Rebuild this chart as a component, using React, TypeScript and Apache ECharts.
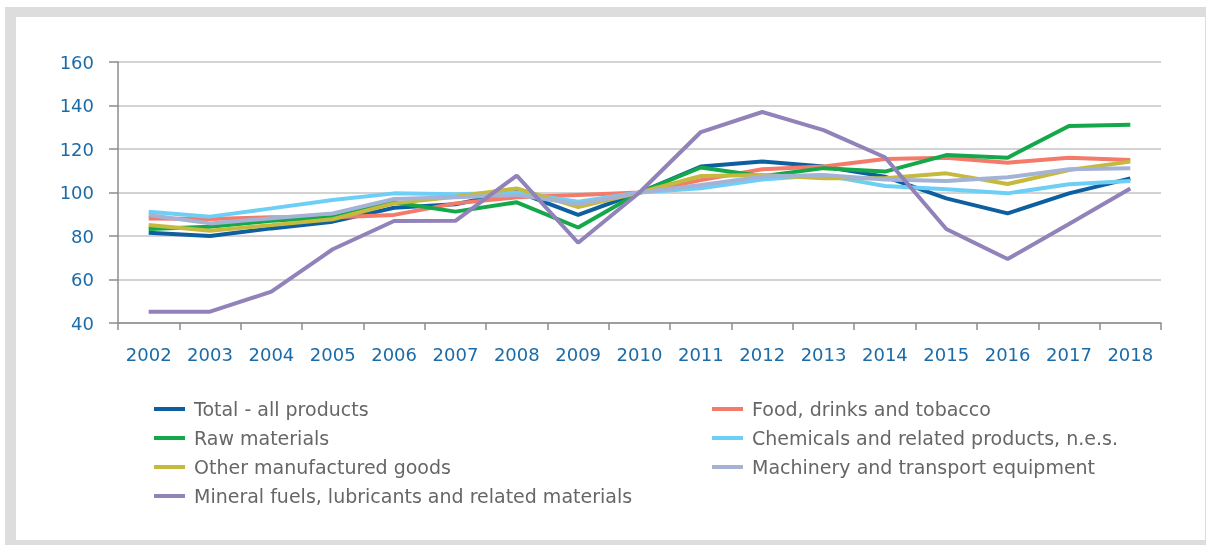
import React, { useEffect, useRef } from "react";
import * as echarts from "echarts";

const years = ["2002","2003","2004","2005","2006","2007","2008","2009","2010","2011","2012","2013","2014","2015","2016","2017","2018"];

const totalAll = [81.5, 80, 83.5, 86.6, 93, 94.6, 100.4, 89.7, 100, 111.9, 114.2, 111.9, 107.3, 97.3, 90.4, 99.6, 106.5];
const foodDrinks = [88.1, 87.8, 88.6, 88.6, 89.7, 95, 97.8, 98.9, 100, 105.7, 110.7, 112, 115.4, 116, 113.7, 116, 114.9];
const rawMaterials = [83.2, 84.3, 87, 88.6, 95.5, 91.2, 95.5, 83.9, 100, 111.5, 107.5, 111.2, 109.6, 117.2, 116, 130.6, 131.2];
const chemicals = [91.2, 88.9, 92.7, 96.6, 99.6, 99.2, 100, 95.8, 100, 101.9, 106, 108, 103, 101.5, 99.6, 103.8, 105.3];
const otherManuf = [85.1, 82.4, 85, 87.7, 95, 98, 101.9, 93.3, 100, 107.6, 108, 106.6, 106.5, 108.8, 103.9, 110.3, 114.2];
const machinery = [89.7, 85.8, 88.2, 90.4, 97, 97.8, 98.9, 94.7, 100, 103.4, 107.3, 108, 106, 105.3, 107, 110.7, 111.1];
const mineralFuels = [45.2, 45.2, 54.4, 73.9, 86.9, 87, 107.8, 76.9, 100, 127.8, 137, 128.7, 116.2, 83.2, 69.4, 85.5, 101.8];

const yTicks = { min: 40, max: 160, interval: 20 };

const seriesDefs = [
  { name: "Total - all products", data: totalAll, color: "#0E5FA0" },
  { name: "Food, drinks and tobacco", data: foodDrinks, color: "#F47A6A" },
  { name: "Raw materials", data: rawMaterials, color: "#14A84B" },
  { name: "Chemicals and related products, n.e.s.", data: chemicals, color: "#6ECFF6" },
  { name: "Other manufactured goods", data: otherManuf, color: "#C6BA3E" },
  { name: "Machinery and transport equipment", data: machinery, color: "#A4B3D5" },
  { name: "Mineral fuels, lubricants and related materials", data: mineralFuels, color: "#9282BA" },
];

const leftLegend = ["Total - all products", "Raw materials", "Other manufactured goods", "Mineral fuels, lubricants and related materials"];
const rightLegend = ["Food, drinks and tobacco", "Chemicals and related products, n.e.s.", "Machinery and transport equipment"];

const FONT = "DejaVu Sans";

export default function App() {
  const ref = useRef<HTMLDivElement>(null);
  useEffect(() => {
    if (!ref.current) return;
    const chart = echarts.init(ref.current, null, { renderer: "svg" });
    const legendCommon = {
      orient: "vertical",
      top: 398,
      padding: 0,
      itemGap: 7,
      itemWidth: 31,
      itemHeight: 4,
      icon: "rect",
      textStyle: {
        color: "#666666",
        fontSize: 19,
        fontFamily: FONT,
        lineHeight: 22,
        padding: [0, 0, 0, 4],
      },
    };
    chart.setOption({
      animation: false,
      backgroundColor: "transparent",
      graphic: [
        {
          type: "rect",
          silent: true,
          z: -10,
          shape: { x: 5, y: 7, width: 1201, height: 538 },
          style: { fill: "#DDDDDE" },
        },
        {
          type: "rect",
          silent: true,
          z: -9,
          shape: { x: 16, y: 17, width: 1189, height: 523 },
          style: { fill: "#FFFFFF" },
        },
      ],
      grid: { left: 118, top: 62, right: 45, bottom: 222, containLabel: false },
      legend: [
        { ...legendCommon, left: 154, data: leftLegend },
        { ...legendCommon, left: 712, data: rightLegend },
      ],
      xAxis: {
        type: "category",
        data: years,
        boundaryGap: true,
        axisLine: { show: true, lineStyle: { color: "#8C8C8C", width: 1.5 } },
        axisTick: { show: true, length: 7, inside: false, lineStyle: { color: "#8C8C8C", width: 1.5 } },
        axisLabel: { color: "#1B6BA8", fontSize: 18, fontFamily: FONT, margin: 22 },
        splitLine: { show: false },
      },
      yAxis: {
        type: "value",
        min: yTicks.min,
        max: yTicks.max,
        interval: yTicks.interval,
        axisLine: { show: true, lineStyle: { color: "#8C8C8C", width: 1.5 } },
        axisTick: { show: true, length: 9, lineStyle: { color: "#8C8C8C", width: 1.5 } },
        axisLabel: { color: "#1B6BA8", fontSize: 18, fontFamily: FONT, margin: 24 },
        splitLine: { show: true, lineStyle: { color: "#C4C4C4", width: 1.5 } },
      },
      series: seriesDefs.map((s) => ({
        name: s.name,
        type: "line",
        data: s.data,
        symbol: "none",
        color: s.color,
        lineStyle: { width: 4, color: s.color },
        emphasis: { disabled: true },
      })),
    });
    return () => chart.dispose();
  }, []);
  return (
    <div
      ref={ref}
      style={{ position: "fixed", left: 0, top: 0, width: 1206, height: 545 }}
    />
  );
}
